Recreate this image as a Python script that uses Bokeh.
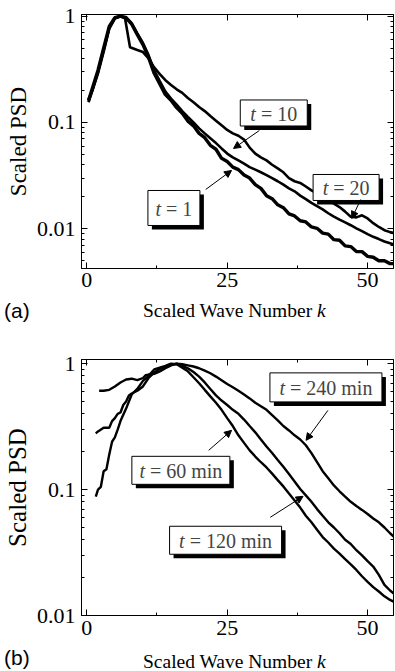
from bokeh.plotting import figure
from bokeh.layouts import column
from bokeh.models import (FixedTicker, LinearAxis, LogAxis, Label, Arrow, Div,
                          NormalHead, Range1d, CustomJSTickFormatter)
from bokeh.embed import file_html
from bokeh.resources import INLINE

# ---------------- data, panel (a) ----------------
k_a_t1 = [0.3] + list(range(1, 56))
psd_a_t1 = [0.16, 0.21, 0.31, 0.50, 0.80, 0.97, 1.0, 0.96, 0.84, 0.67, 0.54,
            0.41, 0.29, 0.23, 0.183, 0.162, 0.138, 0.122, 0.103, 0.093, 0.079,
            0.072, 0.061, 0.056, 0.046, 0.043, 0.038, 0.036, 0.032, 0.030, 0.026,
            0.024, 0.0205, 0.0192, 0.0168, 0.0158, 0.0138, 0.0132, 0.0119, 0.0116, 0.0104,
            0.0101, 0.0091, 0.0089, 0.0079, 0.0078, 0.0069, 0.0068, 0.0061, 0.0061, 0.0055,
            0.0054, 0.0050, 0.0050, 0.0047, 0.0047]

k_a_t10 = [0.3] + list(range(1, 56))
psd_a_t10 = [0.155, 0.20, 0.30, 0.48, 0.78, 0.96, 1.0, 0.98, 0.86, 0.69, 0.56,
             0.43, 0.31, 0.245, 0.195, 0.168, 0.147, 0.128, 0.113, 0.100, 0.088,
             0.079, 0.071, 0.064, 0.057, 0.051, 0.047, 0.044, 0.041, 0.038, 0.036,
             0.034, 0.032, 0.030, 0.028, 0.026, 0.024, 0.0225, 0.0205, 0.019, 0.0175,
             0.0163, 0.0152, 0.0140, 0.0130, 0.0122, 0.0115, 0.0108, 0.0101, 0.0095, 0.0089,
             0.0084, 0.0080, 0.0076, 0.0073, 0.0070]

k_a_t20 = [0.3, 1, 2, 3, 4, 5, 6, 6.8, 7.7, 9, 10] + list(range(11, 56))
psd_a_t20 = [0.165, 0.20, 0.29, 0.46, 0.76, 0.95, 1.0, 0.96, 0.51, 0.48, 0.46,
             0.40, 0.33, 0.285, 0.25, 0.225, 0.205, 0.19, 0.17, 0.155, 0.14,
             0.128, 0.115, 0.104, 0.094, 0.085, 0.079, 0.075, 0.069, 0.058, 0.051,
             0.047, 0.044, 0.040, 0.037, 0.034, 0.030, 0.028, 0.027, 0.025, 0.023,
             0.0215, 0.020, 0.0185, 0.0172, 0.016, 0.0145, 0.013, 0.0128, 0.0134, 0.0125,
             0.0113, 0.0104, 0.0097, 0.0093, 0.0090]

# ---------------- data, panel (b) ----------------
k_b_t60 = [1.6, 2, 2.5, 3, 3.5, 4, 4.5, 5, 5.5, 6] + list(range(7, 56))
psd_b_t60 = [0.088, 0.10, 0.105, 0.14, 0.145, 0.19, 0.24, 0.26, 0.30, 0.35,
             0.44, 0.57, 0.63, 0.73, 0.80, 0.90, 0.93, 0.96, 1.0, 0.99,
             0.93, 0.87, 0.78, 0.70, 0.62, 0.55, 0.49, 0.43, 0.37, 0.32,
             0.27, 0.235, 0.205, 0.183, 0.165, 0.150, 0.134, 0.119, 0.106, 0.093,
             0.082, 0.072, 0.062, 0.055, 0.048, 0.042, 0.038, 0.034, 0.031, 0.028,
             0.0255, 0.023, 0.0205, 0.0185, 0.0168, 0.0155, 0.0142, 0.0133, 0.0126]

k_b_t120 = [1.6, 2, 3, 4, 4.5, 5, 5.5, 6, 6.5, 7, 7.5, 8] + list(range(9, 56))
psd_b_t120 = [0.28, 0.29, 0.31, 0.31, 0.35, 0.37, 0.40, 0.41, 0.47, 0.50, 0.56, 0.58,
              0.61, 0.66, 0.77, 0.85, 0.91, 0.95, 0.98, 1.0, 0.96, 0.92,
              0.86, 0.79, 0.71, 0.63, 0.56, 0.51, 0.47, 0.43, 0.40, 0.36,
              0.32, 0.285, 0.25, 0.22, 0.195, 0.172, 0.152, 0.133, 0.116, 0.101,
              0.090, 0.080, 0.070, 0.062, 0.055, 0.050, 0.045, 0.040, 0.037, 0.033,
              0.030, 0.027, 0.0245, 0.021, 0.0175, 0.0158, 0.0145]

k_b_t240 = [2.2, 3, 4, 5, 6, 7, 8, 9, 10, 10.5] + list(range(11, 56))
psd_b_t240 = [0.61, 0.61, 0.62, 0.66, 0.71, 0.75, 0.76, 0.74, 0.77, 0.81,
              0.82, 0.83, 0.87, 0.92, 0.97, 1.0, 0.99, 0.97, 0.95, 0.92,
              0.88, 0.84, 0.79, 0.74, 0.69, 0.65, 0.61, 0.57, 0.53, 0.49,
              0.46, 0.43, 0.39, 0.355, 0.32, 0.295, 0.27, 0.25, 0.225, 0.195,
              0.165, 0.14, 0.123, 0.108, 0.097, 0.088, 0.080, 0.074, 0.069, 0.064,
              0.059, 0.055, 0.050, 0.045, 0.041]

x_ticks = [0, 25, 50]
x_minor = [12.5, 37.5]
y_ticks = [0.01, 0.1, 1]

SERIF = "Liberation Serif"
SANS = "Liberation Sans"

EM = {"t": 0.278, " ": 0.25, "=": 0.564, "m": 0.778, "i": 0.278, "n": 0.5}


def em_width(s):
    return sum(EM.get(c, 0.5) for c in s)


def style_axis(ax, labels):
    ax.axis_line_color = "black"
    ax.axis_line_width = 1
    ax.major_tick_in = 6
    ax.major_tick_out = 0
    ax.minor_tick_in = 3
    ax.minor_tick_out = 0
    ax.major_tick_line_color = "black"
    ax.minor_tick_line_color = "black"
    if labels:
        ax.major_label_text_font = SERIF
        ax.major_label_text_font_size = "22px"
        ax.major_label_text_color = "black"
    else:
        ax.formatter = CustomJSTickFormatter(code="return ''")
        ax.major_label_standoff = 0


def make_fig(height, b_top, b_bottom, y0, y1, y_minor, xstand, ylab_fs):
    p = figure(width=395, height=height, x_range=Range1d(-0.94, 54.61),
               y_range=Range1d(y0, y1), y_axis_type="log",
               output_backend="svg", toolbar_location=None,
               min_border_left=79, min_border_right=2,
               min_border_top=b_top, min_border_bottom=b_bottom)
    p.grid.visible = False
    p.outline_line_color = "black"
    p.outline_line_width = 1
    xt = FixedTicker(ticks=x_ticks, minor_ticks=x_minor)
    yt = FixedTicker(ticks=y_ticks, minor_ticks=y_minor)
    xa = p.xaxis[0]
    ya = p.yaxis[0]
    xa.ticker = xt
    ya.ticker = yt
    style_axis(xa, True)
    style_axis(ya, True)
    xa.major_label_standoff = xstand
    ya.major_label_standoff = 6
    ya.formatter = CustomJSTickFormatter(code="return String(Number(tick.toPrecision(2)))")
    ya.axis_label = "Scaled PSD"
    ya.axis_label_text_font = SERIF
    ya.axis_label_text_font_style = "normal"
    ya.axis_label_text_font_size = f"{ylab_fs}px"
    ya.axis_label_text_color = "black"
    ya.axis_label_standoff = 3
    top = LinearAxis(ticker=xt)
    right = LogAxis(ticker=yt)
    style_axis(top, False)
    style_axis(right, False)
    p.add_layout(top, "above")
    p.add_layout(right, "right")
    return p


def add_box(p, conv, cx, cy, w, h, rest):
    sx, sy = conv(cx + 4, cy + 4)
    p.rect(x=[sx], y=[sy], width=w, height=h, width_units="screen",
           height_units="screen", fill_color="black", line_color=None)
    x, y = conv(cx, cy)
    p.rect(x=[x], y=[y], width=w, height=h, width_units="screen",
           height_units="screen", fill_color="white", line_color="black",
           line_width=1)
    fs = 20
    total = (EM["t"] + EM[" "] + em_width(rest)) * fs
    left = -total / 2
    p.add_layout(Label(x=x, y=y, text="t", text_font=SERIF,
                       text_font_style="italic", text_font_size=f"{fs}px",
                       text_align="left", text_baseline="middle",
                       x_offset=left, y_offset=-1))
    p.add_layout(Label(x=x, y=y, text=rest, text_font=SERIF,
                       text_font_size=f"{fs}px", text_align="left",
                       text_baseline="middle",
                       x_offset=left + (EM["t"] + EM[" "]) * fs, y_offset=-1))


def add_arrow(p, conv, x0, y0, x1, y1):
    a = conv(x0, y0)
    b = conv(x1, y1)
    p.add_layout(Arrow(end=NormalHead(size=7, fill_color="black",
                                      line_color="black", line_width=1),
                       x_start=a[0], y_start=a[1], x_end=b[0], y_end=b[1],
                       line_color="black", line_width=1))


def caption(tag, height, tag_top, lab_top):
    html = (
        f'<div style="position:relative;width:395px;height:{height}px;margin:0;padding:0;">'
        f'<span style="position:absolute;left:4px;top:{tag_top}px;'
        f'font-family:Liberation Sans;font-size:21px;line-height:1;'
        f'white-space:nowrap;color:black;">{tag}</span>'
        f'<span style="position:absolute;left:143px;top:{lab_top}px;'
        f'font-family:Liberation Serif;font-size:19.5px;line-height:1;'
        f'white-space:nowrap;color:black;">Scaled Wave Number <i>k</i></span>'
        f'</div>'
    )
    return Div(text=html, width=395, height=height, margin=(0, 0, 0, 0))


# ---------------- panel (a) ----------------
minor_a = [0.005, 0.006, 0.007, 0.008, 0.009] + \
          [m * 0.01 for m in range(2, 10)] + [m * 0.1 for m in range(2, 10)]
pa_fig = make_fig(300, 14, 32, 0.00423, 1.037, minor_a, 4, 23)


def conv_a(px, py):
    return ((px - 84.3) / 5.653, 10 ** ((15.7 - py) / 106.3))


pa_fig.line(k_a_t20, psd_a_t20, line_color="black", line_width=2.6)
pa_fig.line(k_a_t10, psd_a_t10, line_color="black", line_width=2.6)
pa_fig.line(k_a_t1, psd_a_t1, line_color="black", line_width=3.4)

add_arrow(pa_fig, conv_a, 258, 130, 232, 148)
add_arrow(pa_fig, conv_a, 204, 189, 230, 170)
add_arrow(pa_fig, conv_a, 360, 199, 351, 218)
add_box(pa_fig, conv_a, 272.5, 112.5, 67, 26, "= 10")
add_box(pa_fig, conv_a, 345.3, 187, 66, 26, "= 20")
add_box(pa_fig, conv_a, 172, 207.5, 52, 35, "= 1")

cap_a = caption("(a)", 30, 0, 1)

# ---------------- panel (b) ----------------
minor_b = [m * 0.01 for m in range(2, 10)] + [m * 0.1 for m in range(2, 10)]
pb_fig = make_fig(317, 29, 32, 0.01, 1.08, minor_b, 5, 25)


def conv_b(px, py):
    return ((px - 84.3) / 5.653, 10 ** ((363.3 - py) / 126.0))


pb_fig.line(k_b_t60, psd_b_t60, line_color="black", line_width=2.4)
pb_fig.line(k_b_t120, psd_b_t120, line_color="black", line_width=2.4)
pb_fig.line(k_b_t240, psd_b_t240, line_color="black", line_width=2.4)

add_arrow(pb_fig, conv_b, 327, 410, 305, 440)
add_arrow(pb_fig, conv_b, 207, 450, 230, 430)
add_arrow(pb_fig, conv_b, 269, 517, 302, 496)
add_box(pb_fig, conv_b, 325, 387, 112, 29, "= 240 min")
add_box(pb_fig, conv_b, 179, 470, 98, 28, "= 60 min")
add_box(pb_fig, conv_b, 224, 540, 112, 28, "= 120 min")

cap_b = caption("(b)", 24, 0, 5)

layout = column(pa_fig, cap_a, pb_fig, cap_b, spacing=0)
open("out.html", "w").write(file_html(layout, INLINE))
